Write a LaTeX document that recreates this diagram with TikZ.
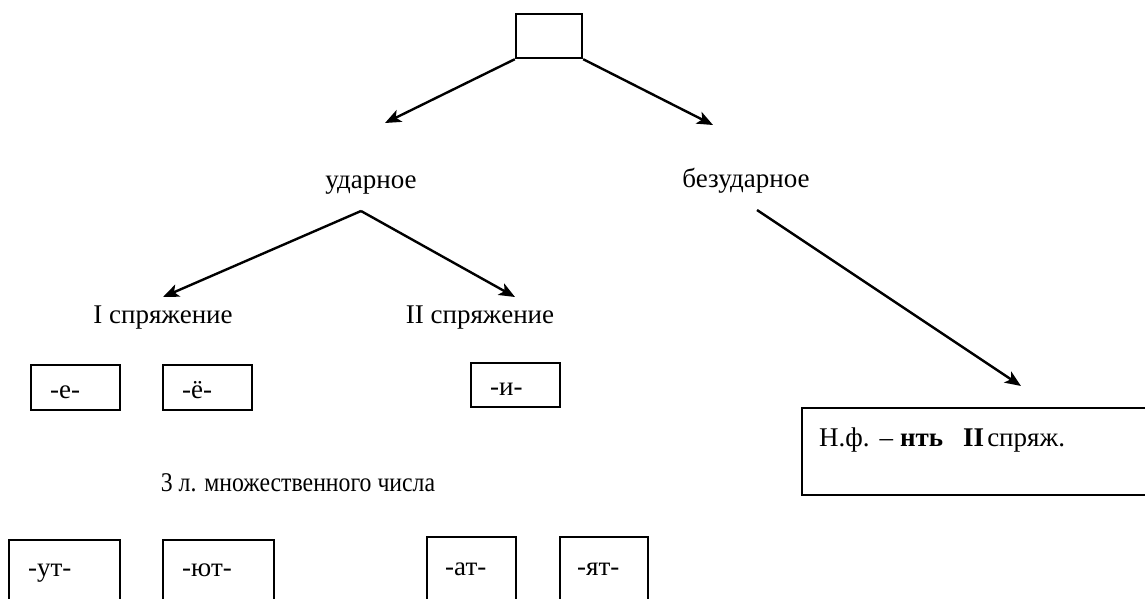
\documentclass[tikz,border=0pt]{standalone}
\usepackage{fontspec}
\usepackage{graphicx}
\setmainfont{Liberation Serif}
\usetikzlibrary{arrows.meta}
\tikzset{
  lbl/.style={font=\fontsize{27}{30}\selectfont, inner sep=0pt, anchor=base},
  frame/.style={draw, line width=2.4pt},
  tag/.style={font=\fontsize{27}{30}\selectfont, inner sep=0pt, anchor=base west},
  arr/.style={line width=2.4pt, -{Stealth[length=16pt,width=13pt,inset=4pt]}},
}
\begin{document}
\begin{tikzpicture}[x=1pt,y=-1pt]
\useasboundingbox (0,0) rectangle (1145,598);
% top box
\node[frame, minimum width=66pt, minimum height=44pt, inner sep=0pt] (top) at (549,36) {};
% labels
\node[lbl] (ud) at (371,188) {ударное};
\node[lbl] (bez) at (746,187) {безударное};
\node[lbl] (s1) at (163,323) {I спряжение};
\node[lbl] (s2) at (480,323) {II спряжение};
\node[lbl] (mn) at (298,491) {\scalebox{0.88}[1]{3 л. множественного числа}};
% arrows from top box
\coordinate (t1) at (385,123);
\coordinate (t2) at (713,125);
\draw[arr] (top.south west) -- (t1);
\draw[arr] (top.south east) -- (t2);
% from ударное
\coordinate (ua) at (361,211);
\coordinate (a1) at (163,297);
\coordinate (a2) at (515,297);
\draw[arr] (ua) -- (a1);
\draw[arr] (ua) -- (a2);
% from безударное
\coordinate (ba) at (757,210);
\coordinate (b1) at (1021,386);
\draw[arr] (ba) -- (b1);
% small boxes
\draw[frame] (31,365) rectangle (120,410);
\node[tag] (e) at (50,398) {-е-};
\draw[frame] (163,365) rectangle (252,410);
\node[tag] (yo) at (182,398) {-ё-};
\draw[frame] (471,363) rectangle (560,407);
\node[tag] (i) at (490,395) {-и-};
% bottom boxes
\draw[frame] (9,540) rectangle (120,610);
\node[tag] (ut) at (28,576) {-ут-};
\draw[frame] (163,540) rectangle (274,610);
\node[tag] (yut) at (182,576) {-ют-};
\draw[frame] (427,537) rectangle (516,610);
\node[tag] (at) at (445,575) {-ат-};
\draw[frame] (560,537) rectangle (648,610);
\node[tag] (yat) at (577,575) {-ят-};
% right box
\draw[frame] (802,408) rectangle (1150,495);
\node[tag] (nf) at (819,446) {Н.ф.\hspace{10pt}– \textbf{нть}\hspace{20pt}\textbf{II}\hspace{3pt}спряж.};
\end{tikzpicture}
\end{document}
